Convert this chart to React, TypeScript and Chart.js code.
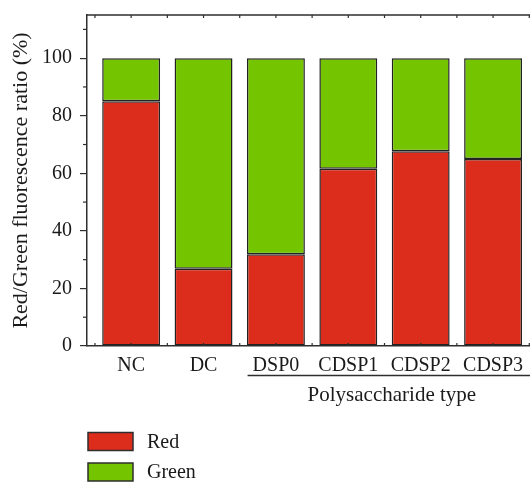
import React, { useEffect, useRef } from "react";
import { Chart, registerables } from "chart.js";

Chart.register(...registerables);

const categories = ["NC", "DC", "DSP0", "CDSP1", "CDSP2", "CDSP3"];
const redValues = [85.0, 26.8, 31.9, 61.6, 67.7, 65.0];
const greenValues = [15.0, 73.2, 68.1, 38.4, 32.3, 35.0];
const seriesNames = ["Red", "Green"];
const yMajorTicks = [0, 20, 40, 60, 80, 100];
const yMinorTicks = [10, 30, 50, 70, 90, 110];
const yTitle = "Red/Green fluorescence ratio (%)";
const groupTitle = "Polysaccharide type";
const groupFirstIndex = 2;

const RED = "#DC2D1C";
const GREEN = "#74C400";
const INK = "#2e2e2e";
const TEXT = "#1a1a1a";
const FONT = "'Liberation Serif', 'Times New Roman', serif";

export default function App() {
  const ref = useRef<HTMLCanvasElement>(null);

  useEffect(() => {
    const canvas = ref.current;
    if (!canvas) return;

    const decor = {
      id: "decor",
      afterDraw(chart: any) {
        const ctx = chart.ctx as CanvasRenderingContext2D;
        const { left, right, top, bottom } = chart.chartArea;
        const xs = chart.scales.x;
        const ys = chart.scales.y;
        ctx.save();
        ctx.strokeStyle = INK;
        // top frame line
        ctx.lineWidth = 1.5;
        ctx.beginPath();
        ctx.moveTo(left, top);
        ctx.lineTo(chart.width, top);
        ctx.stroke();
        // minor y ticks
        ctx.lineWidth = 1.2;
        for (const v of yMinorTicks) {
          const py = ys.getPixelForValue(v);
          ctx.beginPath();
          ctx.moveTo(left - 4, py);
          ctx.lineTo(left, py);
          ctx.stroke();
        }
        // small inner ticks on top and bottom at half-category steps
        for (let i = -1; i <= categories.length * 2 - 1; i++) {
          const px = xs.getPixelForValue(i / 2);
          if (px < left || px > right) continue;
          ctx.beginPath();
          ctx.moveTo(px, top);
          ctx.lineTo(px, top + 3);
          ctx.moveTo(px, bottom);
          ctx.lineTo(px, bottom - 3);
          ctx.stroke();
        }
        // group underline
        ctx.font = `20px ${FONT}`;
        const firstW = ctx.measureText(categories[groupFirstIndex]).width;
        const lastW = ctx.measureText(categories[categories.length - 1]).width;
        const x0 = xs.getPixelForValue(groupFirstIndex) - firstW / 2 - 5;
        const x1 = xs.getPixelForValue(categories.length - 1) + lastW / 2 + 5;
        const uy = bottom + 29.5;
        ctx.lineWidth = 1.5;
        ctx.beginPath();
        ctx.moveTo(x0, uy);
        ctx.lineTo(Math.max(x1, chart.width), uy);
        ctx.stroke();
        // group title
        ctx.font = `21px ${FONT}`;
        ctx.fillStyle = TEXT;
        ctx.textAlign = "center";
        ctx.textBaseline = "alphabetic";
        ctx.fillText(groupTitle, (x0 + x1) / 2 + 4, bottom + 55);
        // legend
        chart.data.datasets.forEach((ds: any, i: number) => {
          const by = bottom + 86.5 + i * 30.5;
          ctx.fillStyle = ds.backgroundColor;
          ctx.fillRect(left + 1, by, 45, 18);
          ctx.lineWidth = 1.5;
          ctx.strokeStyle = INK;
          ctx.strokeRect(left + 1, by, 45, 18);
          ctx.fillStyle = TEXT;
          ctx.font = `20px ${FONT}`;
          ctx.textAlign = "left";
          ctx.textBaseline = "middle";
          ctx.fillText(ds.label, left + 60, by + 10);
        });
        ctx.restore();
      },
    };

    const chart = new Chart(canvas, {
      type: "bar",
      data: {
        datasets: [
          {
            label: seriesNames[0],
            data: redValues.map((v, i) => ({ x: i, y: v })),
            backgroundColor: RED,
            borderColor: "#222",
            borderWidth: 1.5,
            borderSkipped: false,
            stack: "s",
            barPercentage: 1,
            categoryPercentage: 0.8,
          },
          {
            label: seriesNames[1],
            data: greenValues.map((v, i) => ({ x: i, y: v })),
            backgroundColor: GREEN,
            borderColor: "#222",
            borderWidth: 1.5,
            borderSkipped: false,
            stack: "s",
            barPercentage: 1,
            categoryPercentage: 0.8,
          },
        ],
      },
      options: {
        responsive: false,
        animation: false,
        layout: { padding: { top: 15, left: 0, right: 0, bottom: 0 } },
        plugins: { legend: { display: false }, tooltip: { enabled: false } },
        scales: {
          x: {
            type: "linear",
            offset: false,
            min: -0.61,
            max: 5.51,
            afterBuildTicks: (scale: any) => {
              scale.ticks = categories.map((_, i) => ({ value: i }));
            },
            afterFit: (scale: any) => {
              scale.height = 137;
              scale.paddingLeft = 0;
              scale.paddingRight = 0;
            },
            grid: { display: true, drawOnChartArea: false, drawTicks: false },
            border: { display: true, color: INK, width: 1.5 },
            ticks: {
              autoSkip: false,
              maxRotation: 0,
              padding: 8,
              color: TEXT,
              font: { family: FONT, size: 20 },
              callback: (v: any) => categories[v as number] ?? "",
            },
          },
          y: {
            type: "linear",
            min: 0,
            max: 115,
            stacked: true,
            afterBuildTicks: (scale: any) => {
              scale.ticks = yMajorTicks.map((v) => ({ value: v }));
            },
            afterFit: (scale: any) => {
              scale.width = 87;
              scale.paddingTop = 0;
              scale.paddingBottom = 0;
            },
            grid: { drawOnChartArea: false, tickLength: 7, color: INK, lineWidth: 1.2 },
            border: { display: true, color: INK, width: 1.5 },
            ticks: {
              padding: 8,
              color: TEXT,
              font: { family: FONT, size: 20 },
            },
            title: {
              display: true,
              text: yTitle,
              color: TEXT,
              font: { family: FONT, size: 22 },
              padding: { top: 8, bottom: 0 },
            },
          },
        },
      },
      plugins: [decor],
    } as any);

    return () => chart.destroy();
  }, []);

  return (
    <div style={{ position: "absolute", left: 0, top: 0, width: 530, height: 483 }}>
      <canvas ref={ref} width={530} height={483} style={{ display: "block" }} />
    </div>
  );
}
